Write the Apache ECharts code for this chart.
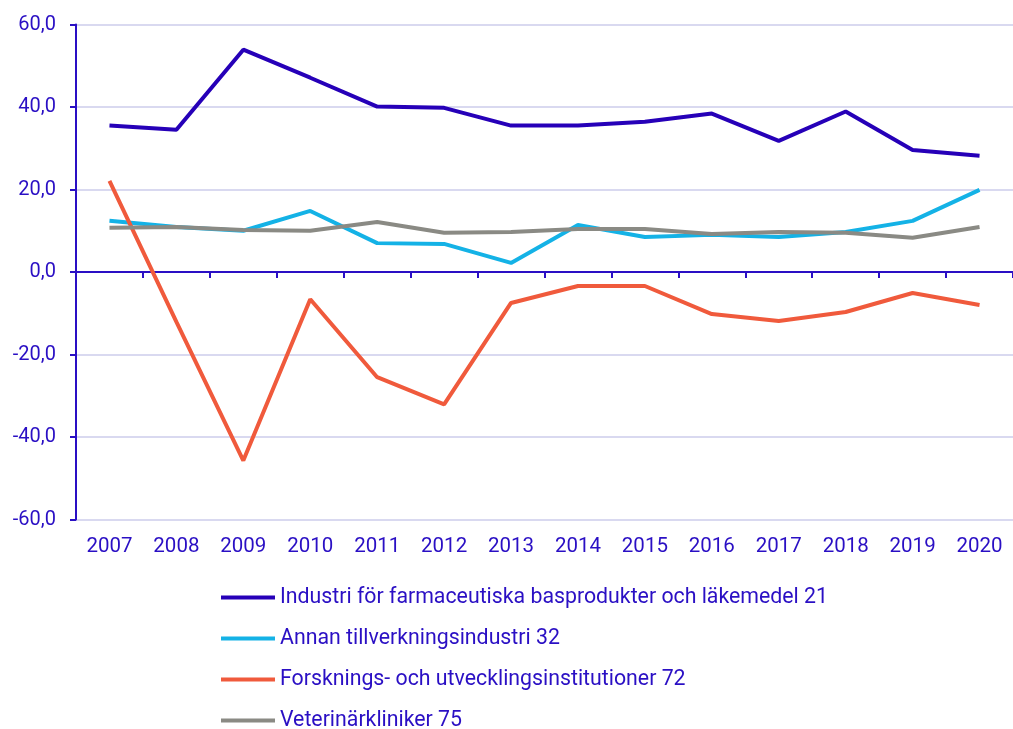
<!DOCTYPE html>
<html>
<head>
<meta charset="utf-8">
<script src="https://cdn.jsdelivr.net/npm/echarts@6/dist/echarts.min.js"></script>
<style>
  html, body { margin: 0; padding: 0; background: #fff; }
  #chart { width: 1013px; height: 729px; }
</style>
</head>
<body>
<div id="chart"></div>
<script>
const years = ["2007", "2008", "2009", "2010", "2011", "2012", "2013", "2014", "2015", "2016", "2017", "2018", "2019", "2020"];

const industri = [35.5, 34.5, 53.9, 47.1, 40.1, 39.8, 35.5, 35.5, 36.4, 38.4, 31.8, 38.9, 29.6, 28.2];
const annan = [12.4, 10.9, 10.0, 14.8, 7.0, 6.8, 2.2, 11.4, 8.5, 9.0, 8.5, 9.7, 12.4, 19.9];
const forskning = [22.1, -12.1, -45.7, -6.6, -25.5, -32.1, -7.5, -3.4, -3.4, -10.2, -11.9, -9.7, -5.1, -8.0];
const veterinar = [10.7, 10.9, 10.2, 10.0, 12.1, 9.5, 9.7, 10.4, 10.4, 9.2, 9.7, 9.5, 8.3, 10.9];

const names = [
  "Industri för farmaceutiska basprodukter och läkemedel 21",
  "Annan tillverkningsindustri 32",
  "Forsknings- och utvecklingsinstitutioner 72",
  "Veterinärkliniker 75"
];

const colors = {
  axis: "#2a0fc4",
  text: "#2a0fc4",
  grid: "#d9d9f0",
  industri: "#2600b8",
  annan: "#14b2e6",
  forskning: "#f05a3c",
  veterinar: "#8a8a84"
};

const chart = echarts.init(document.getElementById("chart"));

const lineSeries = (name, data, color) => ({
  name: name,
  type: "line",
  data: data,
  symbol: "none",
  color: color,
  lineStyle: { color: color, width: 4 },
  xAxisIndex: 0
});

chart.setOption({
  animation: false,
  textStyle: { fontFamily: "Roboto" },
  grid: { left: 76, right: -7, top: 24.5, bottom: 209.5 },
  legend: {
    orient: "vertical",
    left: 221,
    top: 585.5,
    height: 150,
    padding: 0,
    itemWidth: 54,
    itemHeight: 4,
    itemGap: 17,
    icon: "rect",
    textStyle: { color: colors.text, fontSize: 21.3, lineHeight: 24, fontFamily: "Roboto" },
    data: names
  },
  xAxis: [
    {
      type: "category",
      data: years,
      boundaryGap: true,
      axisLine: { onZero: true, lineStyle: { color: colors.axis, width: 2 } },
      axisTick: { show: true, interval: 0, length: 6, lineStyle: { color: colors.axis, width: 2 } },
      axisLabel: { show: false },
      splitLine: { show: false }
    },
    {
      type: "category",
      data: years,
      position: "bottom",
      boundaryGap: true,
      axisLine: { show: false, onZero: false },
      axisTick: { show: false },
      axisLabel: { color: colors.text, fontSize: 20.5, margin: 17, interval: 0, fontFamily: "Roboto" },
      splitLine: { show: false }
    }
  ],
  yAxis: {
    type: "value",
    min: -60,
    max: 60,
    interval: 20,
    axisLine: { show: true, lineStyle: { color: colors.axis, width: 2 } },
    axisTick: { show: true, length: 6, lineStyle: { color: colors.axis, width: 2 } },
    axisLabel: {
      color: colors.text,
      fontSize: 20,
      margin: 20,
      fontFamily: "Roboto",
      formatter: v => v.toFixed(1).replace(".", ",")
    },
    splitLine: { lineStyle: { color: colors.grid, width: 2 } }
  },
  series: [
    lineSeries(names[0], industri, colors.industri),
    lineSeries(names[1], annan, colors.annan),
    lineSeries(names[2], forskning, colors.forskning),
    lineSeries(names[3], veterinar, colors.veterinar)
  ]
});
</script>
</body>
</html>
